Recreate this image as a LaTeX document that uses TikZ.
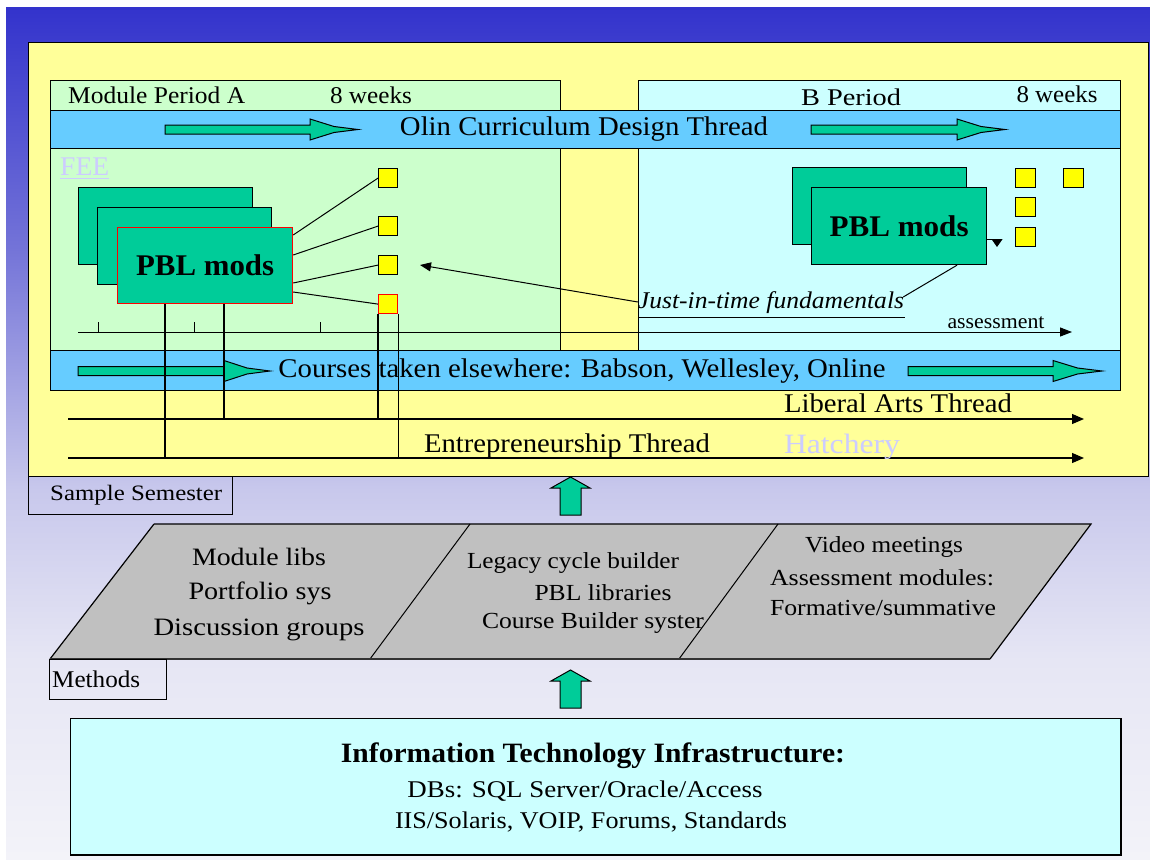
\documentclass[tikz,border=0pt]{standalone}
\usepackage{fontspec}
\setmainfont{Liberation Serif}
\usepackage{graphicx}
\usetikzlibrary{arrows.meta,calc}
\definecolor{bgtop}{HTML}{3333CC}
\definecolor{bgmida}{HTML}{7474D8}
\definecolor{bgmid}{HTML}{C8C8EC}
\definecolor{bglow}{HTML}{E6E6F4}
\definecolor{bgbot}{HTML}{F3F3F9}
\definecolor{pale}{HTML}{FFFF99}
\definecolor{mintA}{HTML}{CCFFCC}
\definecolor{cyanB}{HTML}{CCFFFF}
\definecolor{barblue}{HTML}{66CCFF}
\definecolor{pblgreen}{HTML}{00CC99}
\definecolor{sqyel}{HTML}{FFFF00}
\definecolor{methgray}{HTML}{C0C0C0}
\definecolor{linkc}{HTML}{CCCCFF}
\newcommand\fw[3]{{\fontsize{#2}{#2}\selectfont\resizebox{#1pt}{\height}{#3}}}
\newcommand\blockarr[4]{% x0, x1 (head start), x2 (tip), yc
  \pgfmathsetmacro\hm{#2+0.5*(#3-#2)}
  \draw[blockarrow] (#1,#4-4.5) -- (#2,#4-4.5) -- (#2,#4-10.5) -- (\hm,#4-3) -- (#3,#4) -- (\hm,#4+3) -- (#2,#4+10.5) -- (#2,#4+4.5) -- (#1,#4+4.5) -- cycle;}
\newcommand\uparr[2]{% top y, bottom y ; x fixed
  \draw[blockarrow] (560,#2) -- (560,#1+11) -- (551,#1+11) -- (570.5,#1) -- (590,#1+11) -- (581,#1+11) -- (581,#2) -- cycle;}
\begin{document}
\begin{tikzpicture}[x=1pt,y=-1pt,
  box/.style={draw=black,line width=1.2pt,inner sep=0pt,anchor=north west},
  pbl/.style={box,fill=pblgreen},
  sqr/.style={box,fill=sqyel,minimum width=19pt,minimum height=19pt},
  conn/.style={line width=1pt},
  thread/.style={line width=1.2pt,-{Triangle[length=12pt,width=10pt]}},
  blockarrow/.style={draw=black,line width=1pt,fill=pblgreen},
  lbl/.style={inner sep=0pt,text=black},
]
\useasboundingbox (0,0) rectangle (1150,859);
\fill[white] (0,0) rectangle (1150,859);
% background gradient
\shade[top color=bgtop,bottom color=bgmida] (6,8) rectangle (1150,250);
\shade[top color=bgmida,bottom color=bgmid] (6,249.5) rectangle (1150,490);
\shade[top color=bgmid,bottom color=bglow] (6,489.5) rectangle (1150,660);
\shade[top color=bglow,bottom color=bgbot] (6,659.5) rectangle (1150,859);

% sample semester frame
\node[box,fill=pale,minimum width=1120pt,minimum height=434pt] (sem) at (28,42) {};
\node[box,fill=mintA,minimum width=510pt,minimum height=270pt] (perA) at (50,80) {};
\node[box,fill=cyanB,minimum width=482pt,minimum height=270pt] (perB) at (638,80) {};
\node[box,fill=barblue,minimum width=1070pt,minimum height=38pt] (olinbar) at (50,110) {};
\node[box,fill=barblue,minimum width=1070pt,minimum height=40pt] (coursebar) at (50,350) {};

% headers
\node[lbl,anchor=west] (modA) at (68,95) {\fw{177}{24}{Module Period A}};
\node[lbl] (wkA) at (371,95) {\fw{82}{24}{8 weeks}};
\node[lbl] (bper) at (851,97) {\fw{100}{24}{B Period}};
\node[lbl] (wkB) at (1057,94) {\fw{81}{24}{8 weeks}};
\node[lbl] (olin) at (584,129) {\fw{368}{27}{Olin Curriculum Design Thread}};
\blockarr{165}{310}{358}{129.5}
\blockarr{811}{957}{1005}{129.5}

% FEE
\node[lbl,anchor=west,text=linkc] (fee) at (60,167) {\fw{49}{27}{FEE}};
\draw[linkc,line width=1pt] (fee.south west) ++(0,2) -- ++(49,0);

% timeline
\coordinate (t0) at (78,332);
\coordinate (t1) at (1072,332);
\draw[line width=1pt,-{Triangle[length=12pt,width=9pt]}] (t0) -- (t1);
\foreach \tx in {98,194,320} \draw[line width=1pt] (\tx,332) -- (\tx,322);
\node[lbl] (assess) at (996,323) {\fw{97}{21}{assessment}};

% PBL stack A
\node[pbl,minimum width=174pt,minimum height=77pt] (pA1) at (78,187) {};
\node[pbl,minimum width=174pt,minimum height=77pt] (pA2) at (97,207) {};
\node[pbl,draw=red,minimum width=175pt,minimum height=76pt] (pA3) at (117,227) {\fw{138}{30}{\bfseries PBL mods}};

% squares A
\node[sqr] (sA1) at (378,168) {};
\node[sqr] (sA2) at (378,216) {};
\node[sqr] (sA3) at (378,255) {};
\node[sqr,draw=red] (sA4) at (378,294) {};
\draw[conn] ($(pA3.north east)+(0,8)$) -- (sA1.west);
\draw[conn] ($(pA3.north east)+(0,28)$) -- (sA2.west);
\draw[conn] ($(pA3.north east)+(0,56)$) -- (sA3.west);
\draw[conn] ($(pA3.north east)+(0,65)$) -- (sA4.west);

% PBL stack B
\node[pbl,minimum width=174pt,minimum height=77pt] (pB1) at (792,167) {};
\node[pbl,minimum width=175pt,minimum height=77pt] (pB2) at (811,187) {\fw{139}{30}{\bfseries PBL mods}};
\node[sqr,minimum width=20pt] (sB1) at (1015,168) {};
\node[sqr,minimum width=20pt] (sB2) at (1063,168) {};
\node[sqr,minimum width=20pt] (sB3) at (1015,197) {};
\node[sqr,minimum width=20pt] (sB4) at (1015,227) {};
\draw[line width=1pt,-{Triangle[length=8pt,width=11pt]}] ($(pB2.north east)+(0,52)$) -| (997,247);

% just-in-time
\node[lbl] (jit) at (771,303) {\fw{266}{24}{\itshape Just-in-time fundamentals}};
\draw[line width=1pt] (639,317) -- (905,317);
\coordinate (jitend) at (420,265);
\draw[conn,-{Triangle[length=11pt,width=9pt]}] ($(jit.west)+(0,-1)$) -- (jitend);
\draw[conn] ($(jit.east)+(-1,-6)$) -- ($(pB2.south west)+(146,0)$);

% courses bar
\node[lbl] (courses) at (582,371) {\fw{607}{27}{Courses taken elsewhere: Babson, Wellesley, Online}};
\blockarr{78}{224}{270}{371}
\blockarr{908}{1053}{1102}{371}

% threads
\coordinate (l0) at (68,419);
\coordinate (l1) at (1084,419);
\coordinate (e0) at (68,458);
\coordinate (e1) at (1084,458);
\draw[thread] (l0) -- (l1);
\draw[thread] (e0) -- (e1);
\node[lbl] (liberal) at (898,403) {\fw{228}{27}{Liberal Arts Thread}};
\node[lbl] (entre) at (567,446) {\fw{286}{27}{Entrepreneurship Thread}};
\node[lbl,text=linkc] (hatch) at (842,447) {\fw{116}{28}{Hatchery}};

% vertical links
\draw[line width=1.2pt] ($(pA3.south west)+(48,0)$) coordinate (v1) -- (v1 |- e0);
\draw[line width=1.2pt] ($(pA3.south west)+(107,0)$) coordinate (v2) -- (v2 |- l0);
\draw[line width=1.2pt] (sA4.south west) -- (sA4.south west |- l0);
\draw[line width=1.2pt] (sA4.south east) -- (sA4.south east |- e0);

% sample semester label
\node[box,minimum width=204pt,minimum height=38pt] (sambox) at (28,476) {};
\node[lbl,anchor=west] (sample) at (50,495) {\fw{172}{22}{Sample Semester}};
\uparr{477}{515}

% methods parallelogram
\coordinate (m1) at (154,524);
\coordinate (m2) at (1091,524);
\coordinate (m3) at (990,659);
\coordinate (m4) at (50,659);
\fill[methgray] (m1) -- (m2) -- (m3) -- (m4) -- cycle;
\draw[line width=1.2pt] (m1) -- (m2) -- (m3);
\draw[line width=1.2pt] (m4) -- (m1);
\draw[line width=1pt] (470,524) -- (370,659);
\draw[line width=1pt] (778,524) -- (679,659);
\draw[line width=2.2pt,black!80] (m4) -- (m3);
\node[lbl] (ml1) at (259,557) {\fw{134}{25}{Module libs}};
\node[lbl] (ml2) at (260,593) {\fw{143}{25}{Portfolio sys}};
\node[lbl] (ml3) at (259,630) {\fw{211}{25}{Discussion groups}};
\node[lbl] (lg1) at (573,563) {\fw{212}{23}{Legacy cycle builder}};
\node[lbl] (lg2) at (603,593) {\fw{137}{23}{PBL libraries}};
\node[lbl] (lg3) at (593,623) {\fw{222}{23}{Course Builder syster}};
\node[lbl] (vm1) at (884,547) {\fw{158}{23}{Video meetings}};
\node[lbl] (vm2) at (882,578) {\fw{224}{23}{Assessment modules:}};
\node[lbl] (vm3) at (883,608) {\fw{226}{23}{Formative/summative}};

\node[box,minimum width=117pt,minimum height=40pt] (methbox) at (49,659) {};
\node[lbl,anchor=west] (methods) at (52,679) {\fw{88}{24}{Methods}};
\uparr{670}{708}

% IT box
\node[box,fill=cyanB,minimum width=1050pt,minimum height=136pt] (it) at (70,718) {};
\draw[line width=2.4pt] (it.north east) -- (it.south east) -- (it.south west);
\node[lbl] (it1) at (593,756) {\fw{504}{28}{\bfseries Information Technology Infrastructure:}};
\node[lbl] (it2) at (585,791) {\fw{355}{24}{DBs: SQL Server/Oracle/Access}};
\node[lbl] (it3) at (591,822) {\fw{392}{24}{IIS/Solaris, VOIP, Forums, Standards}};
\end{tikzpicture}
\end{document}
